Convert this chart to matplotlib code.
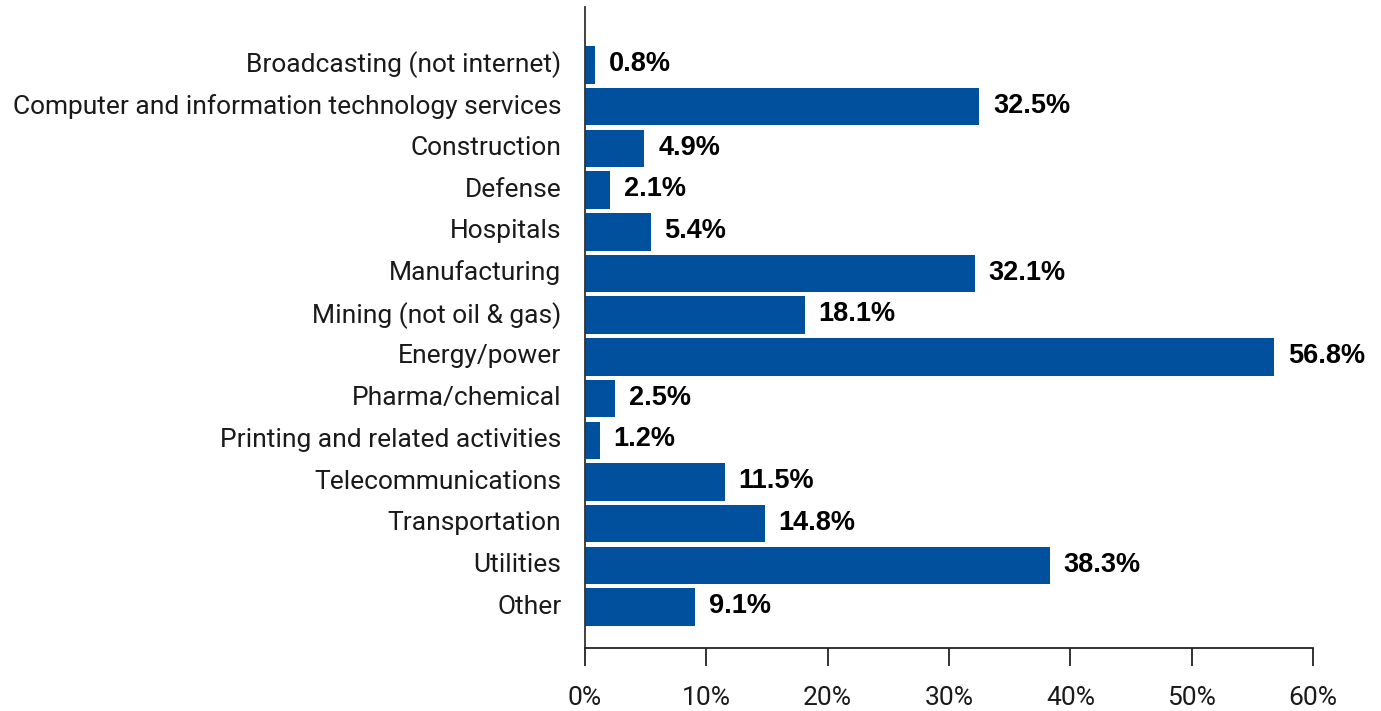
import matplotlib
matplotlib.use("Agg")
from matplotlib import pyplot as plt
import matplotlib.transforms as mtransforms
import numpy as np

industries = [
    "Broadcasting (not internet)",
    "Computer and information technology services",
    "Construction",
    "Defense",
    "Hospitals",
    "Manufacturing",
    "Mining (not oil & gas)",
    "Energy/power",
    "Pharma/chemical",
    "Printing and related activities",
    "Telecommunications",
    "Transportation",
    "Utilities",
    "Other",
]
shares = [0.8, 32.5, 4.9, 2.1, 5.4, 32.1, 18.1, 56.8, 2.5, 1.2, 11.5, 14.8, 38.3, 9.1]
xticks = [0, 10, 20, 30, 40, 50, 60]

bar_color = "#00509D"
plt.rcParams["font.family"] = ["Roboto", "DejaVu Sans"]

fig = plt.figure(figsize=(13.81, 7.11), dpi=100)
ax = fig.add_axes([0.4236, 0.0886, 0.5272, 0.9016])

y = np.arange(len(industries))
ax.barh(y, shares, height=0.9, color=bar_color)

# value labels just right of each bar
for yi, v in zip(y, shares):
    ax.text(v + 1.15, yi - 0.02, f"{v}%", va="center", ha="left",
            fontsize=19.5, fontweight="bold", color="black",
            family=["Liberation Sans", "DejaVu Sans"])

ax.set_ylim(13.98, -1.39)
ax.set_xlim(0, 60)
ax.set_yticks(y)
ax.set_yticklabels(industries, fontsize=19, fontweight="normal", color="#1a1a1a")
ax.tick_params(axis="y", length=0, pad=17)
shift_up = mtransforms.ScaledTranslation(0, 3 / 100, fig.dpi_scale_trans)
for lab in ax.get_yticklabels():
    lab.set_transform(lab.get_transform() + shift_up)
ax.set_xticks(xticks)
ax.set_xticklabels([f"{t}%" for t in xticks], fontsize=19, fontweight="normal", color="#1a1a1a")
ax.tick_params(axis="x", length=13, width=1.3, direction="out", pad=14, color="#222222")

for side in ["top", "right"]:
    ax.spines[side].set_visible(False)
ax.spines["left"].set_color("#333333")
ax.spines["left"].set_linewidth(1.3)
ax.spines["bottom"].set_color("#222222")
ax.spines["bottom"].set_linewidth(1.3)

fig.savefig("out.png", dpi=100)
